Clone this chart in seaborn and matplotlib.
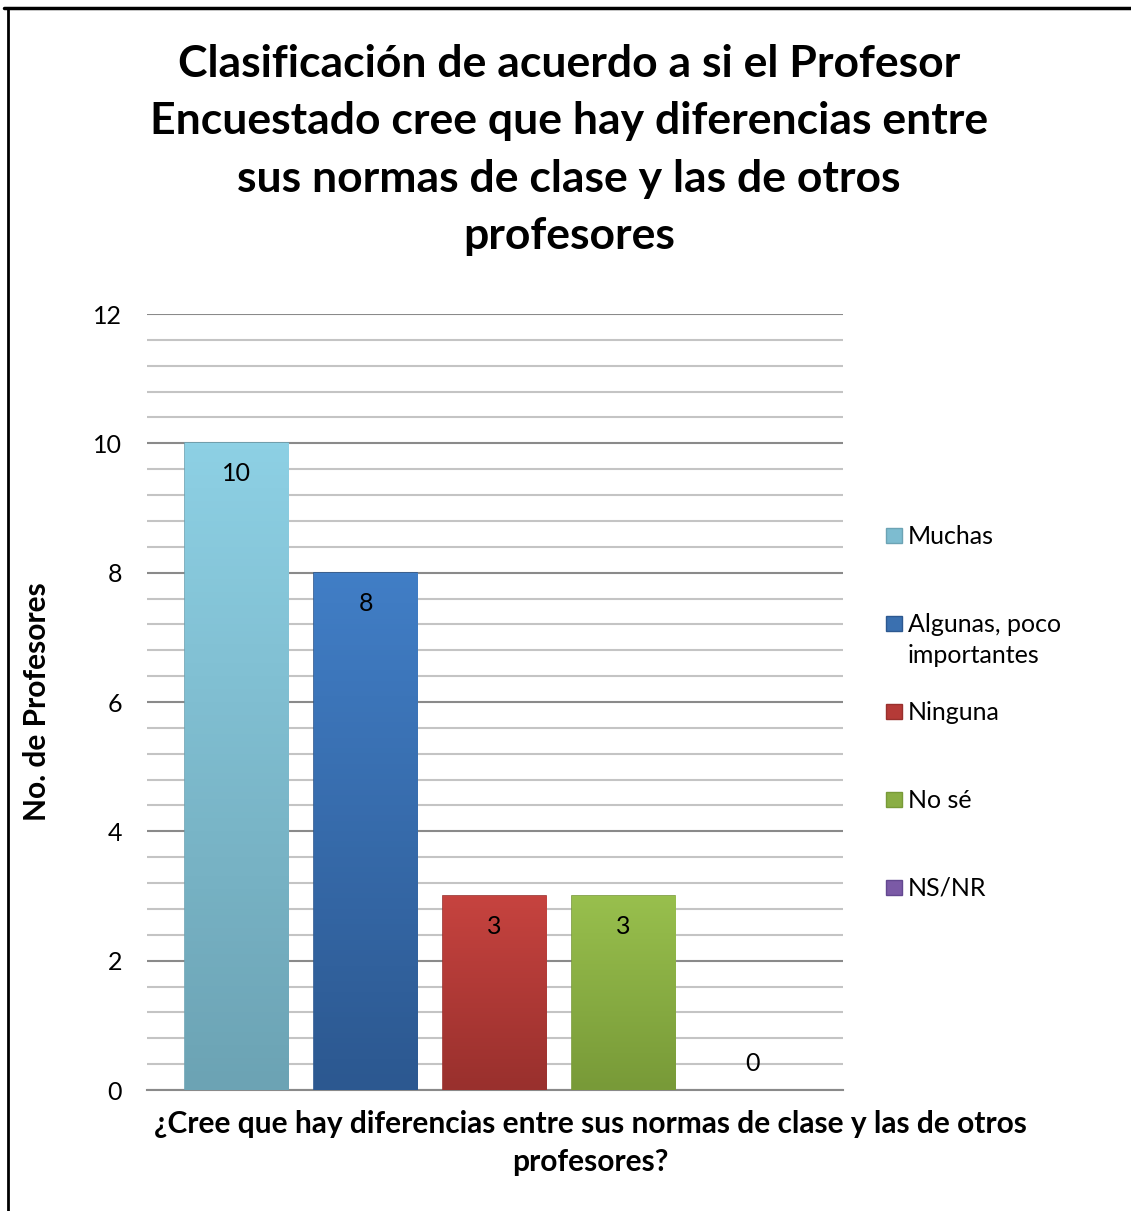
import numpy as np
import pandas as pd
import matplotlib
matplotlib.use("Agg")
import matplotlib.pyplot as plt
import seaborn as sns
from matplotlib.colors import LinearSegmentedColormap
from matplotlib.patches import Rectangle
from matplotlib.lines import Line2D

# datos
categorias = ["Muchas", "Algunas, poco\nimportantes", "Ninguna", "No sé", "NS/NR"]
valores = [10, 8, 3, 3, 0]
colores = ["#7DBCD0", "#3A70B0", "#B53A37", "#8AAE44", "#7B5AA6"]
colores_top = ["#8DD0E4", "#417EC6", "#C6433F", "#98BF4D", "#8A66B8"]
colores_bot = ["#6CA3B4", "#2C5890", "#99302D", "#789A38", "#634890"]

titulo = ("Clasificación de acuerdo a si el Profesor\n"
          "Encuestado cree que hay diferencias entre\n"
          "sus normas de clase y las de otros\n"
          "profesores")
xlabel = ("¿Cree que hay diferencias entre sus normas de clase y las de otros\n"
          "profesores?")
ylabel = "No. de Profesores"

sns.set_theme(style="white")
plt.rcParams["font.family"] = ["Lato", "DejaVu Sans"]
plt.rcParams["text.color"] = "black"
plt.rcParams["ytick.labelcolor"] = "black"

W, H = 1131, 1211
fig = plt.figure(figsize=(W / 100, H / 100), dpi=100)
ax = fig.add_axes([147 / W, 1 - 1090 / H, (843 - 147) / W, (1090 - 314) / H])

df = pd.DataFrame({"cat": categorias, "val": valores})
sns.barplot(data=df, x="cat", y="val", hue="cat", palette=colores, legend=False,
            width=0.8, saturation=1, ax=ax, zorder=3)

# degradado en las barras
for patch, ct, cb in zip(ax.patches, colores_top, colores_bot):
    h = patch.get_height()
    if h <= 0:
        patch.set_visible(False)
        continue
    x0 = patch.get_x()
    w = patch.get_width()
    cmap = LinearSegmentedColormap.from_list("g", [ct, cb])
    grad = np.linspace(0, 1, 100).reshape(-1, 1)
    im = ax.imshow(grad, extent=[x0, x0 + w, 0, h], aspect="auto", cmap=cmap,
                   zorder=3.5, origin="upper")
    im.set_clip_path(patch)
    patch.set_edgecolor(cb)
    patch.set_linewidth(1.2)

ax.set_xlim(-0.694, 4.70)
ax.set_ylim(0, 12)
ax.set_aspect("auto")

# etiquetas de datos
for i, v in enumerate(valores):
    off = -22 if v > 0 else 19
    ax.annotate(str(v), (i, v), xytext=(0, off), textcoords="offset points",
                ha="center", va="center", fontsize=18, color="black", zorder=5)

ax.set_yticks(np.arange(0, 13, 2))
ax.set_yticks(np.arange(0, 12.01, 0.4), minor=True)
ax.set_xticks([])
ax.grid(which="major", axis="y", color="#8A8A8A", lw=1.5)
ax.grid(which="minor", axis="y", color="#C4C4C4", lw=1.5)
ax.set_axisbelow(True)
ax.tick_params(axis="y", which="both", length=0, pad=18, labelsize=18)
for s in ["left", "right", "top"]:
    ax.spines[s].set_visible(False)
ax.spines["bottom"].set_color("#8A8A8A")
ax.spines["bottom"].set_linewidth(1.5)
ax.set_xlabel("")
ax.set_ylabel("")

# textos
fig.text(0.503, 1 - 44 / H, titulo, ha="center", va="top", fontsize=32,
         fontweight="bold", linespacing=1.53)
fig.text(37 / W, 1 - 702 / H, ylabel, rotation=90, ha="center", va="center",
         fontsize=21.5, fontweight="bold")
fig.text(590 / W, 1 - 1110 / H, xlabel, ha="center", va="top", fontsize=21.5,
         fontweight="bold", linespacing=1.45, multialignment="center")

# leyenda
for i, (lab, c, cb) in enumerate(zip(categorias, colores, colores_bot)):
    yc = 535 + 88 * i
    fig.patches.append(Rectangle((886 / W, 1 - (yc + 8) / H), 16 / W, 15 / H,
                                 transform=fig.transFigure, facecolor=c,
                                 edgecolor=cb, lw=1))
    fig.text(908 / W, 1 - (yc - 10) / H, lab, ha="left", va="top",
             fontsize=18, linespacing=1.4)

# borde
fig.add_artist(Line2D([4 / W, 1], [1 - 8 / H, 1 - 8 / H], transform=fig.transFigure,
                      color="black", lw=2.5))
fig.add_artist(Line2D([8 / W, 8 / W], [0, 1 - 8 / H], transform=fig.transFigure,
                      color="black", lw=2))

fig.savefig("out.png", dpi=100)
